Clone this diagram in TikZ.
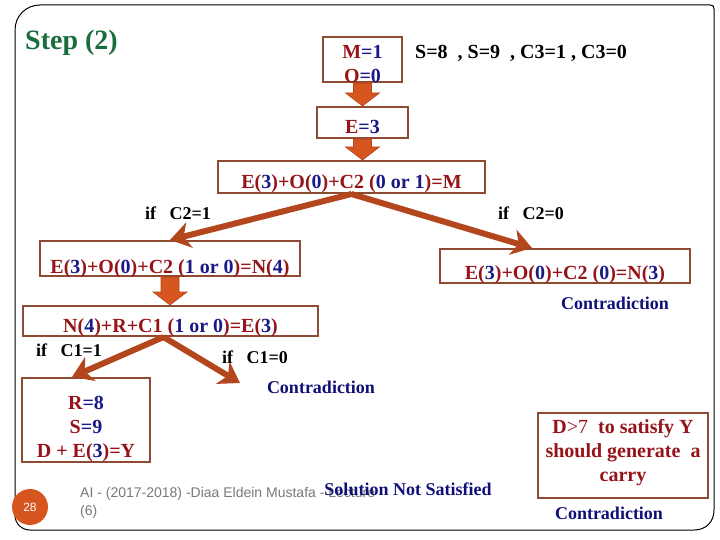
\documentclass[tikz,border=0pt]{standalone}
\usepackage{fontspec}
\setmainfont{Liberation Serif}
\setsansfont{Liberation Sans}
\usetikzlibrary{arrows.meta,calc,positioning}
\definecolor{txtred}{RGB}{150,20,25}
\definecolor{txtblue}{RGB}{25,25,135}
\definecolor{navy}{RGB}{15,15,120}
\definecolor{stepgreen}{RGB}{25,110,60}
\definecolor{boxbrown}{RGB}{140,75,50}
\definecolor{fatorange}{RGB}{215,85,30}
\definecolor{linebrown}{RGB}{180,70,30}
\definecolor{footgray}{RGB}{120,120,120}
\newcommand{\bl}[1]{\textcolor{txtblue}{#1}}
\newcommand{\bx}[2]{\raisebox{-#1pt}[0pt][0pt]{#2}}
% fat block arrow from one box down to the next
\newcommand{\fatarrow}[2]{%
  \draw[fatarrow] ($(#1.south)+(-9,0)$) -- ($(#2.north -| #1.south)+(-9,-13)$) -- ++(-8,0)
    -- (#2.north -| #1.south) -- ($(#2.north -| #1.south)+(17,-13)$) -- ++(-8,0)
    -- ($(#1.south)+(9,0)$) -- cycle;}
\tikzset{
  box/.style={draw=boxbrown, line width=2pt, inner sep=0pt, text=txtred,
    font=\fontsize{20}{24}\selectfont\bfseries},
  fatarrow/.style={fill=fatorange, draw=linebrown, line width=0.6pt},
  thinarrow/.style={draw=linebrown, line width=6pt,
    -{Stealth[length=20pt,width=26pt,inset=6pt]}},
  note/.style={font=\fontsize{18}{22}\selectfont\bfseries, inner sep=0pt},
}

\begin{document}
\begin{tikzpicture}[x=1pt,y=-1pt]
    \useasboundingbox (0,0) rectangle (720,540);

    % slide frame
    \draw[line width=1pt] (40,5) -- (710,5) .. controls (713,5) and (714,6) .. (714,9)
      -- (714,510) .. controls (714,522) and (706,530) .. (694,530) -- (30,530)
      .. controls (22,530) and (15,524) .. (15,515) -- (15,30)
      .. controls (15,16) and (26,5) .. (40,5) -- cycle;

    % title
    \node[anchor=base west, inner sep=0pt, text=stepgreen,
      font=\fontsize{28}{32}\selectfont\bfseries] (title) at (25,50) {Step (2)};

    % top boxes
    \node[box, minimum width=79, minimum height=45] (mo) at (362.5,59.5)
      {\bx{11.7}{\begin{tabular}{@{}c@{}}M\bl{=1}\\O\bl{=0}\end{tabular}}};
    \node[anchor=base west, inner sep=0pt, font=\fontsize{20}{24}\selectfont\bfseries]
      (given) at (415,59) {S=8\ \ , S=9\ \ , C3=1 , C3=0};
    \node[box, minimum width=91, minimum height=31] (e3) at (362.5,122.5) {\bx{11.5}{E\bl{=3}}};
    \node[box, minimum width=267, minimum height=32] (col2) at (351.5,177)
      {\bx{12}{E(\bl{3})+O(\bl{0})+C2 (\bl{0 or 1})=M}};

    \fatarrow{mo}{e3}
    \fatarrow{e3}{col2}

    % C2 branches
    \node[box, minimum width=260, minimum height=35] (left2) at (170,258.5)
      {\bx{14.5}{E(\bl{3})+O(\bl{0})+C2 (\bl{1 or 0})=N(\bl{4})}};
    \node[box, minimum width=250, minimum height=34] (right2) at (565,266)
      {\bx{13}{E(\bl{3})+O(\bl{0})+C2 (\bl{0})=N(\bl{3})}};
    \draw[thinarrow] (col2.south) -- (left2.north);
    \draw[thinarrow] (col2.south) -- ($(right2.north)+(-33,0)$);
    \node[note, anchor=base west] (ifa) at (145,219) {if\ \ \ C2=1};
    \node[note, anchor=base west] (ifb) at (498,219) {if\ \ \ C2=0};
    \node[note, text=navy] (con1) at (615,303) {Contradiction};

    % column 1
    \node[box, minimum width=295, minimum height=30] (col1) at (170.5,321)
      {\bx{11}{N(\bl{4})+R+C1 (\bl{1 or 0})=E(\bl{3})}};
    \fatarrow{left2}{col1}

    % C1 branches
    \node[box, minimum width=128, minimum height=84] (res) at (86,420)
      {\bx{14.2}{\begin{tabular}{@{}c@{}}R\bl{=8}\\S\bl{=9}\\D + E(\bl{3})=Y\end{tabular}}};
    \coordinate (c1end) at (240,383);
    \draw[thinarrow] ($(col1.south)+(-7,0)$) -- ($(res.north)+(-14,0)$);
    \draw[thinarrow] ($(col1.south)+(-7,0)$) -- (c1end);
    \node[note, anchor=base west] (ifc) at (36,356) {if\ \ \ C1=1};
    \node[note, anchor=base west] (ifd) at (222,363) {if\ \ \ C1=0};
    \node[note, text=navy] (con2) at (321,387) {Contradiction};

    % footer
    \node[circle, fill=fatorange, minimum size=36, inner sep=0pt, text=white,
      font=\sffamily\fontsize{12}{14}\selectfont] (page) at (30,507) {28};
    \node[anchor=west, align=left, inner sep=0pt, text=footgray,
      font=\sffamily\fontsize{14}{18}\selectfont] (foot) at (80,503)
      {AI - (2017-2018) -Diaa Eldein Mustafa - Lecture\\(6)};
    \node[note, text=navy] (nosol) at (408,489) {Solution Not Satisfied};

    % D box
    \node[box, minimum width=170, minimum height=85] (dbox) at (623,455.5)
      {\bx{2.7}{\begin{tabular}{@{}c@{}}D{\mdseries >7}\ \ to satisfy Y\\should generate\ \ a\\carry\end{tabular}}};
    \node[note, text=navy] (con3) at (609,513) {Contradiction};
\end{tikzpicture}
\end{document}
